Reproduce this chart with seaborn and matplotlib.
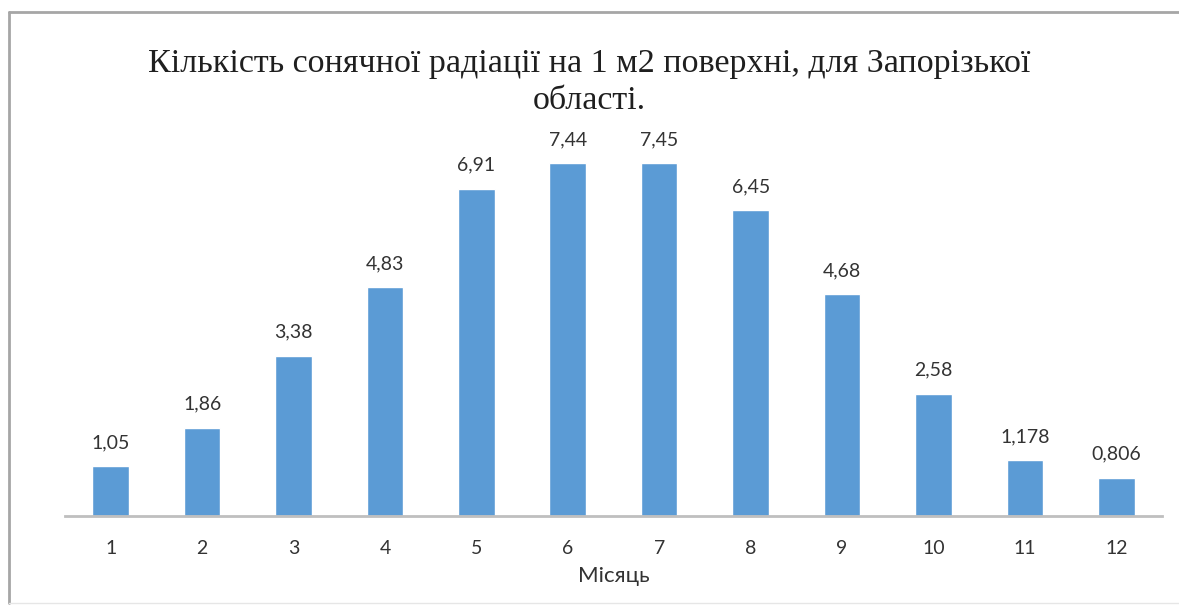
import matplotlib
matplotlib.use("Agg")
import matplotlib.pyplot as plt
import seaborn as sns
import pandas as pd

months = ["1", "2", "3", "4", "5", "6", "7", "8", "9", "10", "11", "12"]
radiation = [1.05, 1.86, 3.38, 4.83, 6.91, 7.44, 7.45, 6.45, 4.68, 2.58, 1.178, 0.806]
value_labels = ["1,05", "1,86", "3,38", "4,83", "6,91", "7,44", "7,45", "6,45",
                "4,68", "2,58", "1,178", "0,806"]
title = "Кількість сонячної радіації на 1 м2 поверхні, для Запорізької\nобласті."
x_label = "Місяць"

sns.set_theme(style="white")
plt.rcParams["font.family"] = ["Lato", "DejaVu Sans"]

df = pd.DataFrame({"month": months, "value": radiation})

fig = plt.figure(figsize=(11.79, 6.06), dpi=100)
ax = fig.add_axes([0.0551, 0.1485, 0.9305, 0.6255])

sns.barplot(data=df, x="month", y="value", color="#5B9BD5", saturation=1,
            width=0.4, ax=ax, order=months)

ax.set_xlim(-0.5, 11.5)
ax.set_ylim(0, 8)
ax.set_yticks([])
ax.set_ylabel("")
for side in ["left", "right", "top"]:
    ax.spines[side].set_visible(False)
ax.spines["bottom"].set_color("#BFBFBF")
ax.spines["bottom"].set_linewidth(2)
ax.tick_params(axis="x", length=0, pad=17, labelsize=14, labelcolor="#333333")
ax.set_xlabel(x_label, fontsize=16, color="#333333", labelpad=7)

for i, (v, lab) in enumerate(zip(radiation, value_labels)):
    ax.annotate(lab, (i, v), xytext=(0, 17), textcoords="offset points",
                ha="center", va="center", fontsize=14, color="#333333")

fig.text(0.5, 0.864, title, ha="center", va="center", fontsize=24.5,
         family=["Liberation Serif", "DejaVu Serif"], color="#1f1f1f",
         linespacing=1.3)

# Chart frame
frame_kw = dict(color="#A6A6A6", linewidth=2, transform=fig.transFigure)
fig.add_artist(plt.Line2D([9 / 1179, 1.0], [1 - 12 / 606, 1 - 12 / 606], **frame_kw))
fig.add_artist(plt.Line2D([9 / 1179, 9 / 1179], [1 - 12 / 606, 3 / 606], **frame_kw))
fig.add_artist(plt.Line2D([9 / 1179, 1.0], [3 / 606, 3 / 606],
                          color="#E6E6E6", linewidth=1, transform=fig.transFigure))

fig.savefig("out.png", dpi=100, facecolor="white")
